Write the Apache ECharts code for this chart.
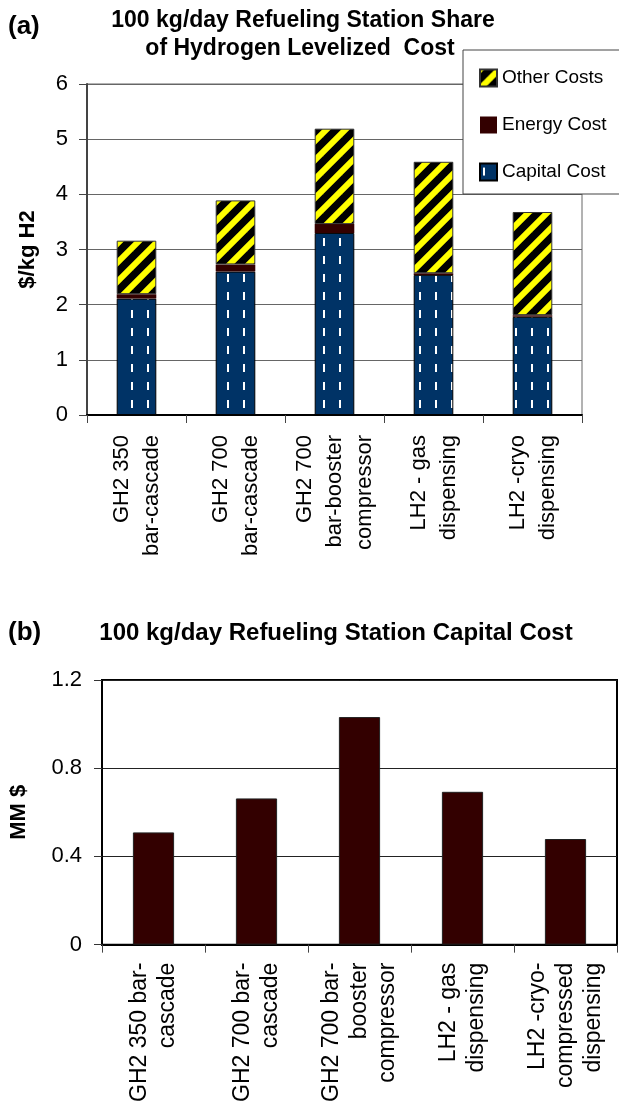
<!DOCTYPE html>
<html>
<head>
<meta charset="utf-8">
<script src="https://cdn.jsdelivr.net/npm/echarts@6/dist/echarts.min.js"></script>
<style>
html,body{margin:0;padding:0;background:#fff;}
#c{width:619px;height:1105px;}
</style>
</head>
<body>
<div id="c"></div>
<script>
// ---- Data ----
const categoriesA = ['GH2 350\nbar-cascade', 'GH2 700\nbar-cascade', 'GH2 700\nbar-booster\ncompressor', 'LH2 - gas\ndispensing', 'LH2 -cryo\ndispensing'];
const capitalCost = [2.11, 2.60, 3.30, 2.54, 1.78];
const energyCost  = [0.08, 0.13, 0.16, 0.03, 0.03];
const otherCosts  = [0.97, 1.16, 1.73, 2.02, 1.87];
const ticksA = [0, 1, 2, 3, 4, 5, 6];

const categoriesB = ['GH2 350 bar-\ncascade', 'GH2 700 bar-\ncascade', 'GH2 700 bar-\nbooster\ncompressor', 'LH2 - gas\ndispensing', 'LH2 -cryo-\ncompressed\ndispensing'];
const capitalMM = [0.509, 0.663, 1.032, 0.693, 0.479];
const ticksB = [0, 0.4, 0.8, 1.2];

// ---- Patterns ----
function capitalPattern() {
  const c = document.createElement('canvas');
  c.width = 16; c.height = 18;
  const g = c.getContext('2d');
  g.fillStyle = '#003366'; g.fillRect(0, 0, 16, 18);
  g.fillStyle = '#ffffff'; g.fillRect(3, 4, 2, 8);
  return c;
}
function stripePattern() {
  const P = 19;
  const c = document.createElement('canvas');
  c.width = P; c.height = P;
  const g = c.getContext('2d');
  g.fillStyle = '#000000'; g.fillRect(0, 0, P, P);
  g.strokeStyle = '#ffff00'; g.lineWidth = 6;
  [[0, 0], [0, P], [0, 2 * P]].forEach(function (o) {
    g.beginPath();
    g.moveTo(-P, o[1] + P);
    g.lineTo(o[1] + P, -P);
    g.stroke();
  });
  return c;
}
const capFill = { image: capitalPattern(), repeat: 'repeat' };
const stripeFill = { image: stripePattern(), repeat: 'repeat' };

const FONT = "'Liberation Sans', Arial, sans-serif";
const chart = echarts.init(document.getElementById('c'), null, { renderer: 'canvas' });

chart.setOption({
  animation: false,
  backgroundColor: '#ffffff',
  textStyle: { fontFamily: FONT },
  graphic: [
    { type: 'text', x: 8, y: 27, style: { text: '(a)', font: 'bold 26px ' + FONT, fill: '#000', textVerticalAlign: 'middle' } },
    { type: 'text', x: 303, y: 21, style: { text: '100 kg/day Refueling Station Share', font: 'bold 23px ' + FONT, fill: '#000', textAlign: 'center', textVerticalAlign: 'middle' } },
    { type: 'text', x: 300, y: 49, style: { text: 'of Hydrogen Levelized  Cost', font: 'bold 23px ' + FONT, fill: '#000', textAlign: 'center', textVerticalAlign: 'middle' } },
    { type: 'text', x: 8, y: 633, style: { text: '(b)', font: 'bold 26px ' + FONT, fill: '#000', textVerticalAlign: 'middle' } },
    { type: 'text', x: 336, y: 633, style: { text: '100 kg/day Refueling Station Capital Cost', font: 'bold 24px ' + FONT, fill: '#000', textAlign: 'center', textVerticalAlign: 'middle' } },
    { type: 'rect', z: 100, shape: { x: 463, y: 50, width: 200, height: 144 }, style: { fill: '#fff', stroke: '#444', lineWidth: 1 } }
  ],
  legend: {
    z: 110,
    orient: 'vertical',
    left: 474, top: 63,
    itemWidth: 17, itemHeight: 17, itemGap: 27,
    icon: 'rect',
    data: ['Other Costs', 'Energy Cost', 'Capital Cost'],
    textStyle: { fontSize: 19, color: '#000', lineHeight: 20, fontFamily: FONT }
  },
  grid: [
    { left: 87, right: 37, top: 84, bottom: 690, show: true, borderColor: '#666', borderWidth: 1, containLabel: false },
    { left: 93, right: 2, top: 680, bottom: 158, show: true, borderColor: '#000', borderWidth: 2, containLabel: false }
  ],
  xAxis: [
    {
      gridIndex: 0, type: 'category', data: categoriesA,
      axisLine: { lineStyle: { color: '#000', width: 2 } },
      axisTick: { show: true, length: 8, lineStyle: { color: '#444' } },
      axisLabel: { rotate: 90, fontSize: 22, lineHeight: 30, color: '#000', margin: 20, fontFamily: FONT, interval: 0 }
    },
    {
      gridIndex: 1, type: 'category', data: categoriesB,
      axisLine: { lineStyle: { color: '#000', width: 2 } },
      axisTick: { show: true, length: 8, lineStyle: { color: '#444' } },
      axisLabel: { rotate: 90, fontSize: 23, lineHeight: 28, color: '#000', margin: 18, fontFamily: FONT, interval: 0 }
    }
  ],
  yAxis: [
    {
      gridIndex: 0, type: 'value', min: ticksA[0], max: ticksA[ticksA.length - 1], interval: 1,
      name: '$/kg H2', nameLocation: 'middle', nameGap: 48, nameRotate: 90,
      nameTextStyle: { fontSize: 22, fontWeight: 'bold', color: '#000', fontFamily: FONT },
      axisLine: { show: true, lineStyle: { color: '#444', width: 2 } },
      axisTick: { show: true, length: 8, lineStyle: { color: '#444' } },
      axisLabel: { fontSize: 22, color: '#000', margin: 19, fontFamily: FONT },
      splitLine: { show: true, lineStyle: { color: '#666', width: 1 } }
    },
    {
      gridIndex: 1, type: 'value', min: ticksB[0], max: ticksB[ticksB.length - 1], interval: 0.4,
      name: 'MM $', nameLocation: 'middle', nameGap: 72, nameRotate: 90,
      nameTextStyle: { fontSize: 22, fontWeight: 'bold', color: '#000', fontFamily: FONT },
      axisLine: { show: true, lineStyle: { color: '#000', width: 2 } },
      axisTick: { show: true, length: 8, lineStyle: { color: '#333' } },
      axisLabel: { fontSize: 22, color: '#000', margin: 20, fontFamily: FONT },
      splitLine: { show: true, lineStyle: { color: '#222', width: 1 } }
    }
  ],
  series: [
    {
      name: 'Capital Cost', type: 'bar', stack: 'a', xAxisIndex: 0, yAxisIndex: 0,
      barWidth: '40%', data: capitalCost,
      itemStyle: { color: capFill, borderColor: '#000', borderWidth: 1 }
    },
    {
      name: 'Energy Cost', type: 'bar', stack: 'a', xAxisIndex: 0, yAxisIndex: 0,
      barWidth: '40%', data: energyCost,
      itemStyle: { color: '#330000', borderColor: '#220000', borderWidth: 0 }
    },
    {
      name: 'Other Costs', type: 'bar', stack: 'a', xAxisIndex: 0, yAxisIndex: 0,
      barWidth: '40%', data: otherCosts,
      itemStyle: { color: stripeFill, borderColor: '#333', borderWidth: 1 }
    },
    {
      name: 'Capital Cost (MM $)', type: 'bar', xAxisIndex: 1, yAxisIndex: 1,
      barWidth: '40%', data: capitalMM,
      itemStyle: { color: '#330000', borderColor: '#222', borderWidth: 1 }
    }
  ]
});
</script>
</body>
</html>
